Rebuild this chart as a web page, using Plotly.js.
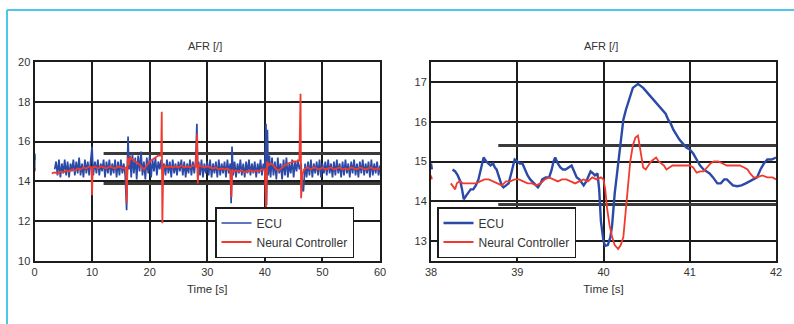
<!DOCTYPE html>
<html><head><meta charset="utf-8">
<script src="https://cdn.plot.ly/plotly-3.0.1.min.js"></script>
<style>html,body{margin:0;padding:0;background:#fff}#chart{width:794px;height:324px}</style>
</head><body><div id="chart"></div>
<script>
// ---- Left chart: full run 0-60 s ----
const ecuTime = [0.02,0.05,0.08,0.1,1.0,
3.5,3.75,4,4.25,4.5,4.75,5,5.25,5.5,5.75,6,6.25,6.5,6.75,7,7.25,7.5,7.75,8,8.25,8.5,8.75,9,9.25,9.5,9.75,
10,10.2,10.5,10.75,11,11.25,11.5,11.75,12,12.25,12.5,12.75,13,13.25,13.5,13.75,14,14.25,14.5,14.75,15,15.25,15.5,15.75,
16,16.1,16.25,16.4,16.6,16.8,17,17.25,17.5,17.75,18,18.25,18.5,18.75,19,19.25,19.5,19.75,20,20.25,20.5,20.75,21,21.25,21.5,21.75,
22,22.25,22.5,22.75,23,23.25,23.5,23.75,24,24.25,24.5,24.75,25,25.25,25.5,25.75,26,26.25,26.5,26.75,27,27.25,27.5,27.75,
28,28.2,28.35,28.5,28.75,29,29.25,29.5,29.75,30,30.25,30.5,30.75,31,31.25,31.5,31.75,32,32.25,32.5,32.75,33,33.25,33.5,33.75,
34,34.15,34.3,34.5,34.75,35,35.25,35.5,35.75,36,36.25,36.5,36.75,37,37.25,37.5,37.75,38,38.25,38.5,38.75,39,39.25,39.5,39.75,
40,40.2,40.3,40.45,40.6,40.8,41,41.25,41.5,41.75,42,42.25,42.5,42.75,43,43.25,43.5,43.75,44,44.25,44.5,44.75,45,45.25,45.5,45.75,
46,46.3,46.5,46.7,46.9,47,47.25,47.5,47.75,48,48.25,48.5,48.75,49,49.25,49.5,49.75,50,50.25,50.5,50.75,51,51.25,51.5,51.75,
52,52.25,52.5,52.75,53,53.25,53.5,53.75,54,54.25,54.5,54.75,55,55.25,55.5,55.75,56,56.25,56.5,56.75,57,57.25,57.5,57.75,
58,58.25,58.5,58.75,59,59.25,59.5,59.75,60];
const ecuAfr = [14.5,15.4,14.6,15.1,null,
14.6,15.0,14.3,15.1,14.2,14.9,14.4,15.1,14.3,15.0,14.2,14.9,14.5,15.1,14.3,15.0,14.4,15.2,14.3,14.9,14.2,15.1,14.4,15.0,14.3,15.1,
15.75,14.3,15.0,14.4,15.1,14.3,14.9,14.5,15.1,14.2,15.0,14.4,15.1,14.3,14.9,14.4,15.1,14.2,15.0,14.3,15.1,14.4,14.9,14.3,
12.55,14.5,16.25,14.6,15.3,14.2,15.4,14.4,15.2,14.1,15.3,14.5,15.5,14.3,15.0,14.1,15.2,14.4,15.3,14.2,15.1,14.5,15.2,14.3,15.0,14.6,
15.1,14.4,14.9,14.3,15.1,14.4,15.0,14.2,15.1,14.4,14.9,14.3,15.0,14.5,15.1,14.3,15.0,14.2,14.9,14.4,15.1,14.3,15.0,14.4,
15.1,16.9,14.2,15.0,14.3,15.1,14.2,14.9,14.4,15.0,14.3,15.1,14.2,14.9,14.4,15.0,14.2,15.1,14.3,14.9,14.4,15.0,14.2,15.1,14.4,
14.9,12.9,15.75,14.3,15.0,14.2,14.9,14.4,15.1,14.3,14.9,14.2,15.0,14.4,15.1,14.3,14.9,14.4,15.0,14.2,14.9,14.4,15.1,14.3,14.9,
14.5,16.9,12.8,16.6,14.3,15.3,14.2,15.2,14.3,15.0,14.1,15.2,14.4,14.9,14.1,15.1,14.3,15.2,14.2,14.9,14.4,15.1,14.2,15.0,14.5,15.1,
14.6,14.9,13.6,13.5,14.4,14.9,14.2,15.0,14.3,15.1,14.2,14.9,14.4,15.0,14.3,15.1,14.2,14.9,14.4,15.0,14.3,15.1,14.4,14.9,14.2,
15.0,14.3,15.1,14.4,14.9,14.2,15.0,14.3,15.1,14.4,14.9,14.2,15.0,14.4,15.1,14.3,14.9,14.2,15.0,14.4,15.1,14.3,14.9,14.4,
15.0,14.2,15.1,14.3,14.9,14.4,15.0,14.3,14.8];

const ncTime = [0.02,0.08,1.0,
3,3.5,4,4.5,5,5.5,6,6.5,7,7.5,8,8.5,9,9.5,9.9,10,10.1,10.5,11,11.5,12,12.5,13,13.5,14,14.5,15,15.5,15.9,
16,16.2,16.4,16.6,17,17.5,18,18.5,19,19.5,20,20.5,21,21.5,22,22.1,22.2,22.35,22.6,23,23.5,24,24.5,25,25.5,26,26.5,27,27.5,
28,28.25,28.35,28.5,29,29.5,30,30.5,31,31.5,32,32.5,33,33.5,34,34.2,34.35,34.6,35,35.5,36,36.5,37,37.5,38,38.5,39,39.5,
40,40.2,40.4,40.6,41,41.5,42,42.5,43,43.5,44,44.5,45,45.5,46,46.2,46.3,46.5,46.8,47,47.5,48,48.5,49,49.5,50,50.5,51,51.5,
52,52.5,53,53.5,54,54.5,55,55.5,56,56.5,57,57.5,58,58.5,59,59.5,60];
const ncAfr = [14.55,14.65,null,
14.4,14.45,14.4,14.5,14.45,14.55,14.5,14.6,14.55,14.65,14.6,14.7,14.65,14.75,14.7,13.3,14.7,14.75,14.65,14.75,14.7,14.65,14.75,14.7,14.65,14.75,14.7,14.65,14.7,
12.9,15.2,14.8,15.2,15.1,15.0,14.9,14.75,14.6,14.8,15.0,15.1,15.2,15.3,15.3,17.5,11.9,14.6,14.8,14.7,14.75,14.7,14.75,14.7,14.8,14.7,14.75,14.7,14.8,
14.75,16.4,13.9,14.8,14.75,14.7,14.75,14.7,14.65,14.7,14.6,14.65,14.6,14.65,14.55,13.2,14.6,14.5,14.55,14.5,14.55,14.45,14.5,14.55,14.5,14.55,14.5,14.6,
14.6,12.7,15.0,14.8,14.9,14.8,14.6,14.55,14.7,14.8,14.9,14.95,15.0,15.0,15.05,18.4,13.15,14.3,14.6,14.65,14.7,14.6,14.7,14.65,14.6,14.7,14.6,14.65,14.7,
14.6,14.65,14.7,14.6,14.65,14.6,14.7,14.65,14.6,14.7,14.65,14.6,14.65,14.7,14.6,14.65,14.6];

// tolerance band lines (left chart)
const bandTime = [12, 60];
const bandHigh = [15.4, 15.4];
const bandLow = [13.9, 13.9];

// ---- Right chart: zoom 38-42 s ----
const ecuZoomTime = [38.0,38.01,38.1,
38.25,38.28,38.31,38.34,38.36,38.38,38.41,38.43,38.46,38.49,38.52,38.55,38.58,38.61,38.64,38.66,38.69,38.72,38.74,38.76,38.78,38.8,38.82,38.84,38.87,38.9,38.93,38.95,38.97,
39.0,39.03,39.06,39.09,39.12,39.15,39.17,39.2,39.24,39.27,39.29,39.33,39.37,39.4,39.42,39.44,39.47,39.5,39.53,39.56,39.6,39.63,39.66,39.69,39.72,39.75,39.77,39.8,39.83,39.85,39.88,39.9,39.93,39.95,39.97,
40.0,40.02,40.05,40.08,40.1,40.13,40.16,40.19,40.21,40.23,40.26,40.29,40.32,40.34,40.37,40.4,40.43,40.46,40.5,40.54,40.58,40.62,40.66,40.69,40.72,40.75,40.78,40.81,40.85,40.88,40.92,40.96,
41.0,41.04,41.08,41.12,41.16,41.2,41.23,41.27,41.32,41.36,41.4,41.43,41.47,41.5,41.55,41.6,41.65,41.7,41.74,41.78,41.82,41.86,41.9,41.95,42.0];
const ecuZoomAfr = [14.95,14.8,null,
14.8,14.75,14.65,14.5,14.3,14.05,14.15,14.2,14.3,14.3,14.4,14.55,14.8,15.1,15.0,14.95,14.9,14.95,14.85,14.8,14.65,14.55,14.4,14.35,14.4,14.45,14.7,14.9,15.05,
15.0,14.95,14.95,14.8,14.65,14.55,14.5,14.45,14.35,14.45,14.55,14.6,14.6,14.8,15.0,15.1,14.95,14.85,14.8,14.8,14.85,14.9,14.75,14.6,14.55,14.45,14.4,14.5,14.65,14.75,14.7,14.65,14.7,14.3,13.5,
13.0,12.88,12.9,13.1,13.4,14.2,14.8,15.3,15.7,16.05,16.3,16.5,16.7,16.85,16.9,16.95,16.9,16.85,16.75,16.65,16.55,16.45,16.35,16.3,16.2,16.05,15.95,15.8,15.65,15.55,15.45,15.35,
15.3,15.2,15.05,14.9,14.8,14.75,14.7,14.6,14.45,14.45,14.55,14.55,14.45,14.4,14.38,14.4,14.45,14.5,14.55,14.6,14.8,14.95,15.05,15.05,15.1];

const ncZoomTime = [38.0,38.01,38.1,
38.23,38.26,38.28,38.3,38.33,38.37,38.42,38.47,38.52,38.57,38.62,38.67,38.72,38.77,38.82,38.87,38.92,38.97,39.02,39.07,39.12,39.17,39.22,39.27,39.32,39.37,39.42,39.47,39.52,39.57,39.62,39.67,39.72,39.77,39.82,39.87,39.92,39.97,
40.0,40.02,40.04,40.07,40.1,40.13,40.17,40.2,40.23,40.25,40.27,40.29,40.31,40.34,40.37,40.4,40.42,40.44,40.46,40.49,40.52,40.55,40.58,40.61,40.64,40.67,40.7,40.73,40.76,40.8,40.85,40.9,40.95,
41.0,41.04,41.08,41.12,41.16,41.2,41.24,41.28,41.33,41.38,41.43,41.48,41.53,41.58,41.63,41.67,41.7,41.74,41.78,41.84,41.9,41.96,42.0];
const ncZoomAfr = [14.65,14.55,null,
14.45,14.35,14.3,14.45,14.5,14.45,14.45,14.45,14.45,14.5,14.55,14.55,14.5,14.45,14.4,14.5,14.5,14.55,14.55,14.5,14.45,14.45,14.4,14.45,14.55,14.6,14.55,14.5,14.55,14.55,14.5,14.45,14.5,14.55,14.5,14.6,14.55,14.6,
14.55,14.3,13.85,13.4,13.1,12.9,12.8,12.9,13.1,13.6,14.2,14.6,15.0,15.4,15.6,15.65,15.35,15.05,14.85,14.8,14.9,15.0,15.05,15.1,15.0,14.95,14.9,14.8,14.85,14.9,14.9,14.9,14.9,
14.9,14.85,14.72,14.75,14.75,14.85,14.95,15.0,15.0,14.95,14.9,14.9,14.9,14.9,14.85,14.8,14.7,14.6,14.6,14.65,14.6,14.6,14.55];

const zoomBandTime = [38.78, 42];
const zoomBandHigh = [15.4, 15.4];
const zoomBandLow = [13.92, 13.92];

const blue = '#2b4aa8', red = '#f03a2e', bandColor = '#3a3a3a';
const traces = [
  {x: bandTime, y: bandHigh, mode:'lines', line:{color:bandColor,width:3}, showlegend:false, hoverinfo:'skip'},
  {x: bandTime, y: bandLow, mode:'lines', line:{color:bandColor,width:3}, showlegend:false, hoverinfo:'skip'},
  {x: zoomBandTime, y: zoomBandHigh, xaxis:'x2', yaxis:'y2', mode:'lines', line:{color:bandColor,width:3}, showlegend:false, hoverinfo:'skip'},
  {x: zoomBandTime, y: zoomBandLow, xaxis:'x2', yaxis:'y2', mode:'lines', line:{color:bandColor,width:3}, showlegend:false, hoverinfo:'skip'},
  {x: ecuTime, y: ecuAfr, name:'ECU', mode:'lines', line:{color:blue,width:1.7}, legend:'legend'},
  {x: ncTime, y: ncAfr, name:'Neural Controller', mode:'lines', line:{color:red,width:1.8}, legend:'legend'},
  {x: ecuZoomTime, y: ecuZoomAfr, name:'ECU', xaxis:'x2', yaxis:'y2', mode:'lines', line:{color:blue,width:2.4}, legend:'legend2'},
  {x: ncZoomTime, y: ncZoomAfr, name:'Neural Controller', xaxis:'x2', yaxis:'y2', mode:'lines', line:{color:red,width:1.8}, legend:'legend2'}
];

const font = {family:'Liberation Sans, Arial, sans-serif', size:11, color:'#333'};
const axisCommon = {showgrid:true, gridcolor:'#1c1c1c', gridwidth:2, zeroline:false,
  showline:true, linecolor:'#1c1c1c', linewidth:2, mirror:'ticks', ticks:'inside', ticklen:4,
  tickcolor:'#1c1c1c', tickwidth:1.5, tickfont:{size:11, color:'#333'}};
const legendCommon = {bgcolor:'#fff', bordercolor:'#1c1c1c', borderwidth:1.5,
  font:{size:12, color:'#333'}, xanchor:'left', yanchor:'top', tracegroupgap:0};

const layout = {
  width:794, height:324, margin:{l:0,r:0,t:0,b:0}, paper_bgcolor:'#fff', plot_bgcolor:'#fff',
  font: font, showlegend:true,
  xaxis: Object.assign({}, axisCommon, {domain:[34.5/794, 380/794], range:[0,60], dtick:10, tick0:0,
    title:{text:'Time [s]', font:{size:11.5,color:'#333'}, standoff:8}}),
  yaxis: Object.assign({}, axisCommon, {domain:[63/324, 262/324], range:[10,20], dtick:2, tick0:10}),
  xaxis2: Object.assign({}, axisCommon, {domain:[431/794, 776/794], range:[38,42], dtick:1, tick0:38, anchor:'y2',
    title:{text:'Time [s]', font:{size:11.5,color:'#333'}, standoff:8}}),
  yaxis2: Object.assign({}, axisCommon, {domain:[63/324, 262/324], range:[12.5,17.5], dtick:1, tick0:13, anchor:'x2'}),
  legend: Object.assign({}, legendCommon, {x:215/794, y:(324-207)/324}),
  legend2: Object.assign({}, legendCommon, {x:437/794, y:(324-207)/324}),
  annotations: [
    {text:'AFR [/]', xref:'paper', yref:'paper', x:205/794, y:(324-46)/324, yanchor:'middle', xanchor:'center', showarrow:false, font:{size:11,color:'#333'}},
    {text:'AFR [/]', xref:'paper', yref:'paper', x:601/794, y:(324-46)/324, yanchor:'middle', xanchor:'center', showarrow:false, font:{size:11,color:'#333'}}
  ],
  shapes: [
    {type:'line', xref:'paper', yref:'paper', x0:7/794, x1:7/794, y0:0, y1:(324-10)/324, line:{color:'#4cc6f0', width:2}},
    {type:'line', xref:'paper', yref:'paper', x0:7/794, x1:1, y0:(324-10)/324, y1:(324-10)/324, line:{color:'#4cc6f0', width:2}}
  ]
};
Plotly.newPlot('chart', traces, layout, {staticPlot:true, displayModeBar:false});
</script></body></html>
